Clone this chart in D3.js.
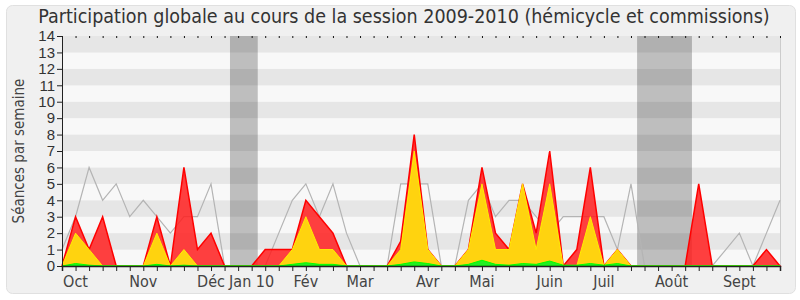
<!DOCTYPE html>
<html>
<head>
<meta charset="utf-8">
<script src="https://cdn.jsdelivr.net/npm/d3@7"></script>
<style>
  body { margin: 0; background: #fff; }
  svg { display: block; font-family: "DejaVu Sans Condensed", "DejaVu Sans", sans-serif; font-stretch: condensed; }
</style>
</head>
<body>
<div id="chart"></div>
<script>
const width = 800,
  height = 300,
  margin = { top: 36, bottom: 34, left: 62, right: 20 };

/* DATA - one value per week, session 2009-2010 */
// grey line: weekly total
const totalSeances = [1, 3, 6, 4, 5, 3, 4, 3, 2, 3, 3, 5, 0, 0, 0, 0, 2, 4, 5, 3,
  5, 2, 0, 0, 0, 5, 5, 5, 0, 0, 4, 5, 3, 4, 4, 3, 2, 3, 3, 3,
  3, 1, 5, 0, 0, 0, 0, 0, 0, 1, 2, 0, 2, 4]
// red area
const presences = [0, 3, 1, 3, 0, 0, 0, 3, 0, 6, 1, 2, 0, 0, 0, 1, 1, 1, 4, 3,
  2, 0, 0, 0, 0, 1.5, 8, 1, 0, 0, 1, 6, 2, 1, 5, 2, 7, 0, 1, 6,
  0, 1, 0, 0, 0, 0, 0, 5, 0, 0, 0, 0, 1, 0]
// yellow area
const participations = [0, 2, 1, 0, 0, 0, 0, 2, 0, 1, 0, 0, 0, 0, 0, 0, 0, 1, 3, 1,
  1, 0, 0, 0, 0, 1, 7, 1, 0, 0, 1, 5, 1, 1, 5, 1, 5, 0, 0, 3,
  0, 1, 0, 0, 0, 0, 0, 0, 0, 0, 0, 0, 0, 0]
// green area
const interventions = [0, 0.15, 0.05, 0, 0, 0, 0, 0.1, 0, 0.05, 0, 0, 0, 0, 0, 0, 0, 0.1, 0.2, 0.1,
  0.1, 0, 0, 0, 0, 0.1, 0.25, 0.15, 0, 0, 0.1, 0.35, 0.1, 0.05, 0.15, 0.1, 0.3, 0.05, 0.05, 0.15,
  0.05, 0.15, 0, 0, 0, 0, 0, 0, 0, 0, 0, 0, 0, 0]

const monthLabels = ["Oct", "Nov", "Déc", "Jan 10", "Fév", "Mar", "Avr", "Mai", "Juin", "Juil", "Août", "Sept"]
const monthWeeks = [1, 6, 11, 14, 18, 22, 27, 31, 36, 40, 45, 50]
// holidays (start week, end week)
const vacances = [[12.4, 14.45], [42.45, 46.5]]
const yTicks = d3.range(0, 15)

const weeks = d3.range(totalSeances.length)

/* SCALES */
const xScale = d3.scaleLinear()
  .domain([0, weeks.length - 1])
  .range([margin.left, width - margin.right])

const yScale = d3.scaleLinear()
  .domain([0, 14])
  .range([height - margin.bottom, margin.top])

/* SVG */
const svg = d3.select("#chart")
  .append("svg")
  .attr("width", width)
  .attr("height", height)

// panel
svg.append("rect")
  .attr("x", 6.5).attr("y", 5.5)
  .attr("width", 789).attr("height", 288)
  .attr("rx", 6)
  .attr("fill", "#f0f0f0")
  .attr("stroke", "#e0e0e0")

// stripes
svg.append("g")
  .selectAll("rect")
  .data(yTicks.slice(0, 14))
  .join("rect")
  .attr("x", margin.left)
  .attr("width", width - margin.right - margin.left)
  .attr("y", d => yScale(d + 1))
  .attr("height", d => yScale(d) - yScale(d + 1))
  .attr("fill", d => d % 2 === 1 ? "#e6e6e6" : "#f8f8f8")

// holidays
svg.append("g")
  .selectAll("rect")
  .data(vacances)
  .join("rect")
  .attr("x", d => xScale(d[0]))
  .attr("width", d => xScale(d[1]) - xScale(d[0]))
  .attr("y", margin.top)
  .attr("height", height - margin.bottom - margin.top)
  .attr("fill", "#000")
  .attr("fill-opacity", 0.23)

// right border
svg.append("line")
  .attr("x1", width - margin.right + 0.5).attr("x2", width - margin.right + 0.5)
  .attr("y1", margin.top).attr("y2", height - margin.bottom)
  .attr("stroke", "#cccccc")

// grey line
const line = d3.line()
  .x((d, i) => xScale(i))
  .y(d => yScale(d))

svg.append("path")
  .datum(totalSeances)
  .attr("d", line)
  .attr("fill", "none")
  .attr("stroke", "#b4b4b4")
  .attr("stroke-width", 1.2)

// areas
const area = d3.area()
  .x((d, i) => xScale(i))
  .y0(yScale(0))
  .y1(d => yScale(d))

const layers = [
  { values: presences, fill: "#ff1e1e", opacity: 0.85, stroke: "#ff0000", sw: 1.5 },
  { values: participations, fill: "#ffd30f", opacity: 1, stroke: "#ffee00", sw: 1 },
  { values: interventions, fill: "#22ee22", opacity: 1, stroke: "#00ff00", sw: 1 }
]

layers.forEach(l => {
  svg.append("path")
    .datum(l.values)
    .attr("d", area)
    .attr("fill", l.fill)
    .attr("fill-opacity", l.opacity)
    .attr("stroke", l.stroke)
    .attr("stroke-width", l.sw)
})

/* AXES */
const xAxis = d3.axisBottom(xScale)
  .tickValues(weeks)
  .tickSize(5)
  .tickFormat("")

svg.append("g")
  .attr("transform", `translate(0, ${height - margin.bottom})`)
  .call(xAxis)
  .call(g => g.select(".domain").attr("stroke", "#222").attr("stroke-width", 1.5))
  .call(g => g.selectAll(".tick line").attr("stroke", "#222"))

// small tick marks on top
svg.append("g")
  .attr("transform", `translate(0, ${margin.top})`)
  .call(d3.axisBottom(xScale).tickValues(weeks).tickSize(2).tickFormat(""))
  .call(g => g.select(".domain").remove())
  .call(g => g.selectAll(".tick line").attr("stroke", "#111"))

// month labels
svg.append("g")
  .selectAll("text")
  .data(monthLabels)
  .join("text")
  .attr("x", (d, i) => xScale(monthWeeks[i]))
  .attr("y", 287)
  .attr("text-anchor", "middle")
  .attr("font-size", 16)
  .attr("fill", "#444")
  .text(d => d)

const yAxis = d3.axisLeft(yScale)
  .tickValues(yTicks)
  .tickSize(5)
  .tickPadding(2)

svg.append("g")
  .attr("transform", `translate(${margin.left}, 0)`)
  .call(yAxis)
  .call(g => g.select(".domain").attr("stroke", "#222"))
  .call(g => g.selectAll(".tick line").attr("stroke", "#222"))
  .call(g => g.selectAll(".tick text")
    .attr("font-size", 15)
    .attr("font-family", null)
    .attr("fill", "#333"))

// y title
svg.append("text")
  .attr("transform", `translate(24, ${(margin.top + height - margin.bottom) / 2}) rotate(-90)`)
  .attr("text-anchor", "middle")
  .attr("font-size", 15)
  .attr("fill", "#444")
  .text("Séances par semaine")

// title
svg.append("text")
  .attr("x", 404)
  .attr("y", 23)
  .attr("text-anchor", "middle")
  .attr("font-size", 19.5)
  .attr("fill", "#333")
  .text("Participation globale au cours de la session 2009-2010 (hémicycle et commissions)")
</script>
</body>
</html>
